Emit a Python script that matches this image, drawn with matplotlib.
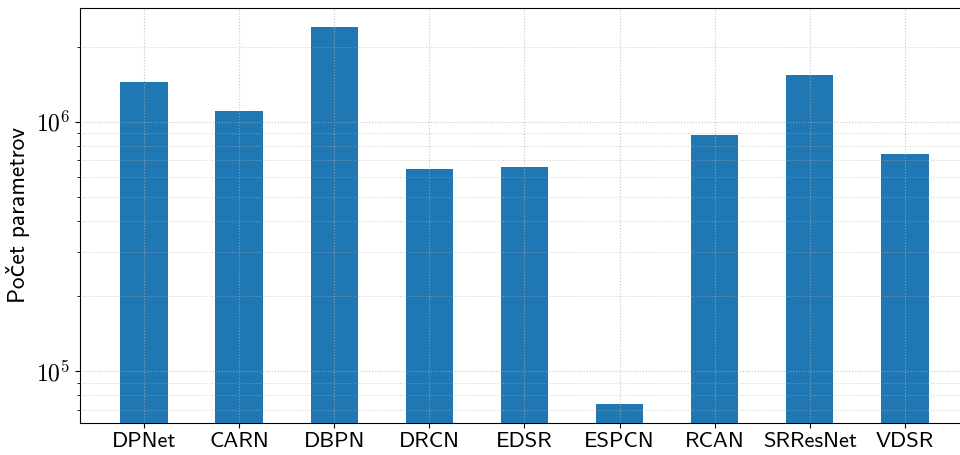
import matplotlib
matplotlib.use("Agg")
import matplotlib.pyplot as plt
from matplotlib.ticker import LogLocator, FuncFormatter, NullFormatter
import numpy as np

plt.rcParams["mathtext.fontset"] = "cm"

models = ["DPNet", "CARN", "DBPN", "DRCN", "EDSR", "ESPCN", "RCAN", "SRResNet", "VDSR"]
params = [1.45e6, 1.11e6, 2.39e6, 6.45e5, 6.57e5, 7.4e4, 8.82e5, 1.543e6, 7.40e5]

sans = ["cmss10", "DejaVu Sans"]

fig = plt.figure(figsize=(9.6, 4.55), dpi=100)
ax = fig.add_axes([0.0833, 0.071, 0.926, 0.911])

x = list(range(len(models)))
ax.bar(x, params, width=0.5, color="#1f77b4")
ax.set_yscale("log")
ax.set_ylim(6.22e4, 2.855e6)
ax.set_xlim(-0.675, len(models) - 1 + 0.675)

ax.set_xticks(x)
ax.set_xticklabels(models, family=sans, fontsize=16.2)
ax.yaxis.set_major_locator(LogLocator(base=10))
ax.yaxis.set_minor_locator(LogLocator(base=10, subs=range(2, 10)))
ax.yaxis.set_major_formatter(FuncFormatter(lambda v, p: r"$10^{%d}$" % round(np.log10(v))))
ax.yaxis.set_minor_formatter(NullFormatter())
ax.tick_params(axis="y", which="major", labelsize=17)
ax.set_ylabel("Počet parametrov", family=sans, fontsize=16.8, labelpad=4)

ax.set_axisbelow(False)
ax.grid(True, which="major", axis="both", color="#b0b0b0", linestyle=":", linewidth=0.8, alpha=0.7)
ax.grid(True, which="minor", axis="y", color="#b0b0b0", linestyle=":", linewidth=0.7, alpha=0.6)

fig.savefig("out.png", dpi=100)
